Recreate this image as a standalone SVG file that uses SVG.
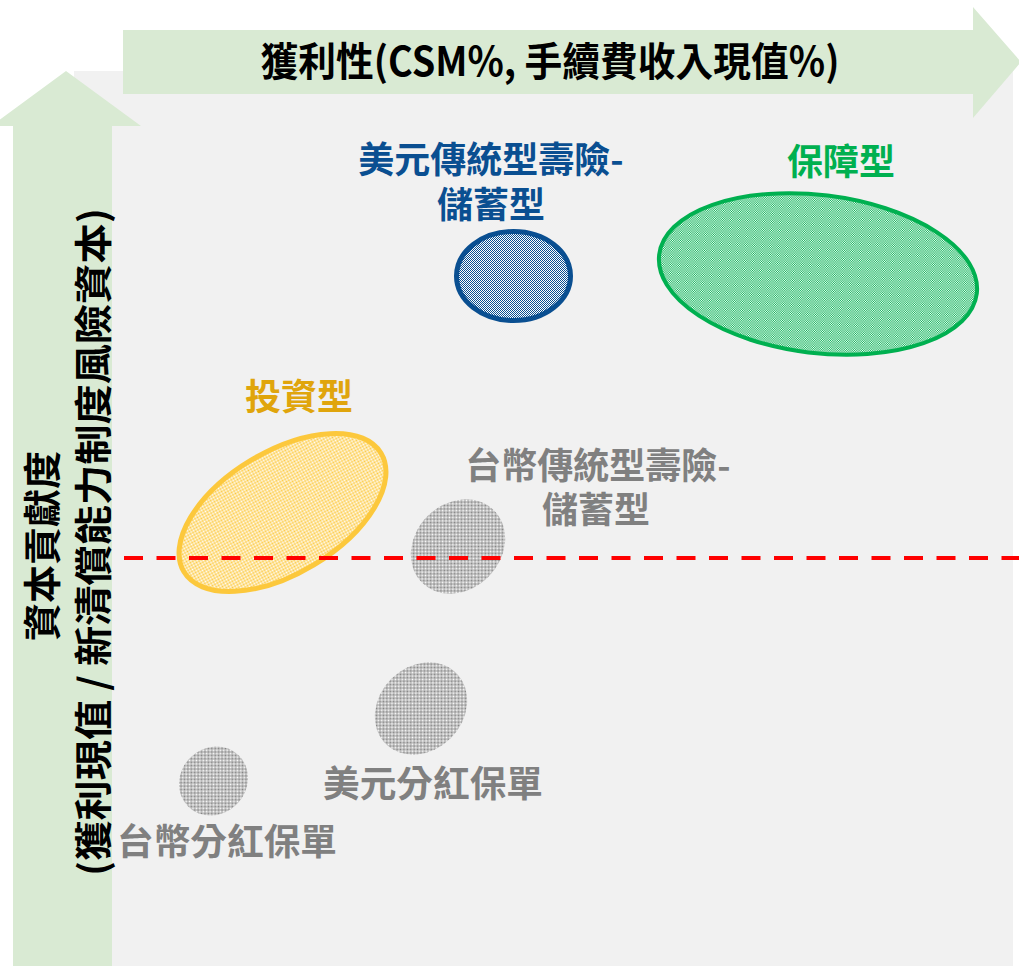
<svg xmlns="http://www.w3.org/2000/svg" width="1019" height="966" viewBox="0 0 1019 966">
<style>
text{font-family:"Noto Sans CJK TC","Noto Sans CJK SC",sans-serif;font-weight:bold;text-anchor:middle}
.arrow{fill:#d9ead3}
.t36{font-size:36px}
</style>
<defs>
<pattern id="pBlue" width="2" height="2" patternUnits="userSpaceOnUse"><rect width="2" height="2" fill="#ffffff"/><rect width="1" height="1" fill="#0a4f91"/><rect x="1" y="1" width="1" height="1" fill="#0a4f91"/></pattern>
<pattern id="pGreen" width="2" height="2" patternUnits="userSpaceOnUse"><rect width="2" height="2" fill="#ffffff"/><rect width="1" height="1" fill="#00b050"/><rect x="1" y="1" width="1" height="1" fill="#00b050"/></pattern>
<pattern id="pYellow" width="2" height="2" patternUnits="userSpaceOnUse"><rect width="2" height="2" fill="#ffffff"/><rect width="1" height="1" fill="#fcc83c"/><rect x="1" y="1" width="1" height="1" fill="#fcc83c"/></pattern>
<pattern id="pGray" width="2" height="2" patternUnits="userSpaceOnUse"><rect width="2" height="2" fill="#ffffff"/><rect width="1" height="1" fill="#808080"/><rect x="1" y="1" width="1" height="1" fill="#808080"/></pattern>
</defs>
<rect id="background" x="74" y="71" width="939" height="895" fill="#f1f1f1"/>
<g id="x-axis">
<polygon class="arrow" points="123,30 973,30 973,7 1021,62 973,118 973,94 123,94"/>
<text x="550" y="76" font-size="40" fill="#000" textLength="579" lengthAdjust="spacingAndGlyphs">獲利性(CSM%, 手續費收入現值%)</text>
</g>
<g id="y-axis">
<polygon class="arrow" points="13,966 13,126 -9,126 66,71 141,126 112,126 112,966"/>
<g transform="translate(42,546) rotate(-90)">
<text x="0" y="14" font-size="38" fill="#000" textLength="190" lengthAdjust="spacingAndGlyphs">資本貢獻度</text>
</g>
<g transform="translate(93,542) rotate(-90)">
<text x="0" y="14" font-size="38" fill="#000" textLength="668" lengthAdjust="spacingAndGlyphs">(獲利現值 / 新清償能力制度風險資本)</text>
</g>
</g>
<g id="node-usd-savings">
<ellipse cx="513.5" cy="276" rx="57" ry="44.5" fill="url(#pBlue)" stroke="#0a4f91" stroke-width="5"/>
<text class="t36" fill="#0a4f91"><tspan x="491" y="173">美元傳統型壽險-</tspan><tspan x="491" y="218">儲蓄型</tspan></text>
</g>
<g id="node-protection">
<ellipse cx="0" cy="0" rx="160" ry="79" transform="translate(818,274) rotate(7)" fill="url(#pGreen)" stroke="#00b050" stroke-width="4"/>
<text class="t36" x="841" y="175" fill="#00b050">保障型</text>
</g>
<g id="node-investment">
<ellipse cx="0" cy="0" rx="115" ry="61" transform="translate(282.5,512.5) rotate(-31)" fill="url(#pYellow)" stroke="#fcc83c" stroke-width="5"/>
<text class="t36" x="299" y="410" fill="#e0a50c">投資型</text>
</g>
<g id="node-twd-savings">
<ellipse cx="0" cy="0" rx="51" ry="43" transform="translate(458,546.5) rotate(-45)" fill="url(#pGray)"/>
<text class="t36" fill="#808080"><tspan x="598" y="479">台幣傳統型壽險-</tspan><tspan x="596" y="523">儲蓄型</tspan></text>
</g>
<g id="node-usd-participating">
<ellipse cx="0" cy="0" rx="50" ry="42" transform="translate(421,708.5) rotate(-45)" fill="url(#pGray)"/>
<text class="t36" x="433" y="797" fill="#808080" textLength="220" lengthAdjust="spacingAndGlyphs">美元分紅保單</text>
</g>
<g id="node-twd-participating">
<ellipse cx="0" cy="0" rx="36" ry="33" transform="translate(213.5,781) rotate(-45)" fill="url(#pGray)"/>
<text class="t36" x="227" y="855" fill="#808080" textLength="220" lengthAdjust="spacingAndGlyphs">台幣分紅保單</text>
</g>
<g id="connectors">
<line x1="124" y1="558" x2="1019" y2="558" stroke="#ff0000" stroke-width="4" stroke-dasharray="19 13.5"/>
</g>
</svg>
